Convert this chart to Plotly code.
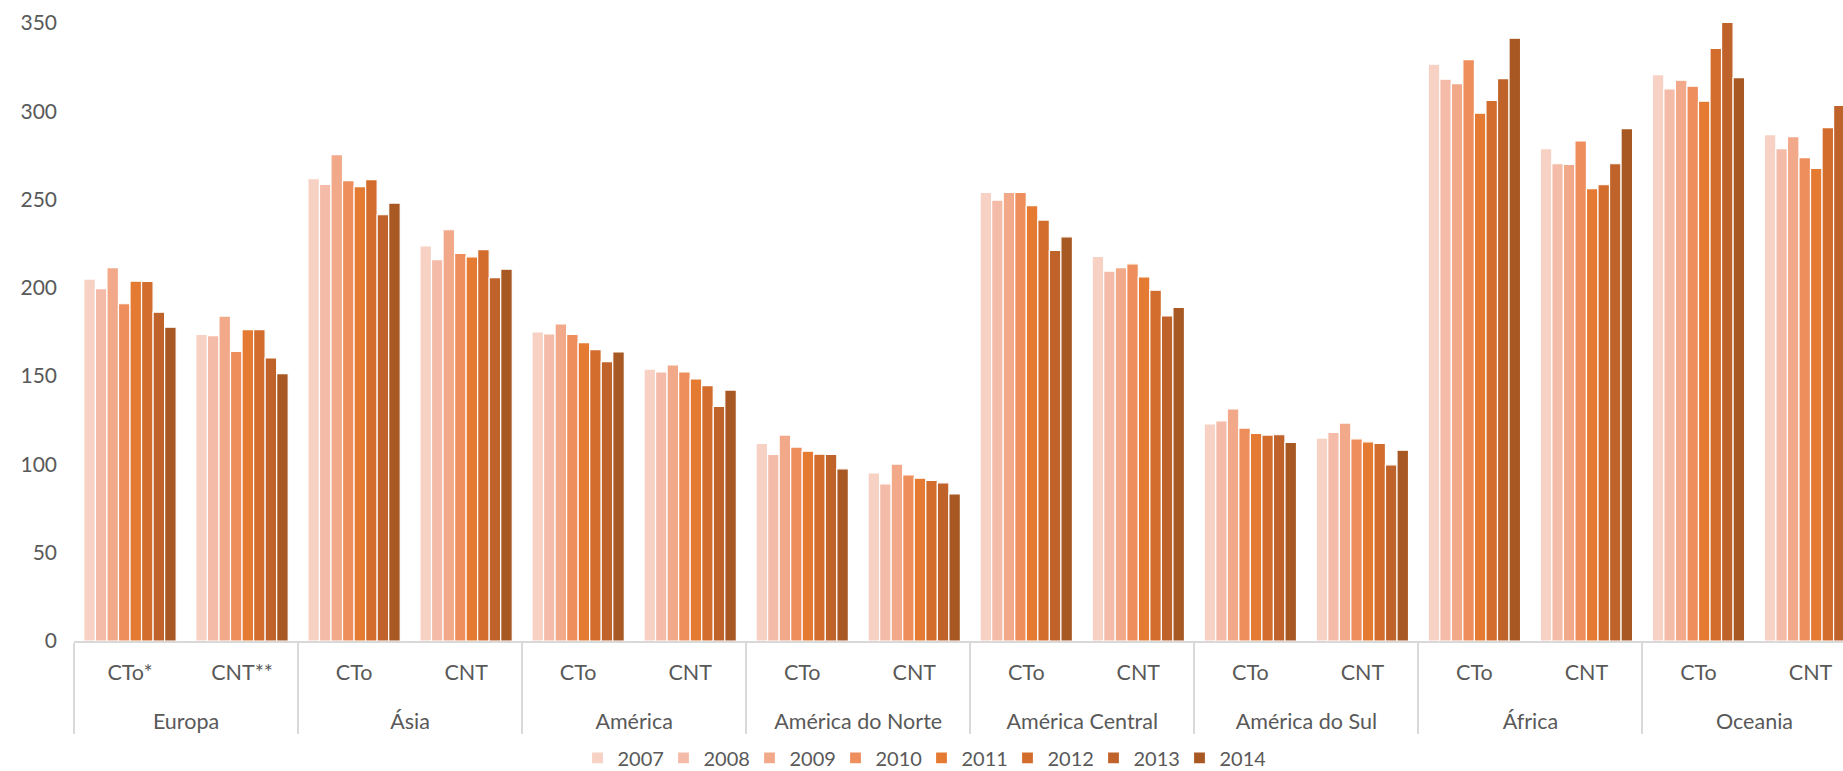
import plotly.graph_objects as go

regions = ["Europa", "Europa", "Ásia", "Ásia", "América", "América",
           "América do Norte", "América do Norte", "América Central", "América Central",
           "América do Sul", "América do Sul", "África", "África", "Oceania", "Oceania"]
subcats = ["CTo*", "CNT**", "CTo", "CNT", "CTo", "CNT", "CTo", "CNT",
           "CTo", "CNT", "CTo", "CNT", "CTo", "CNT", "CTo", "CNT"]
years = ["2007", "2008", "2009", "2010", "2011", "2012", "2013", "2014"]

v2007 = [205, 173.7, 261.8, 223.8, 175, 154, 111.9, 95.2, 254, 217.8, 122.9, 114.9, 326.7, 278.8, 320.8, 286.8]
v2008 = [199.6, 173, 258.6, 216, 173.9, 152.4, 105.7, 89, 249.7, 209.5, 124.7, 118.1, 318.2, 270.3, 312.7, 278.8]
v2009 = [211.5, 184, 275.4, 232.9, 179.6, 156.3, 116.6, 100.2, 254, 211.5, 131.4, 123.4, 315.7, 269.9, 317.6, 285.6]
v2010 = [191, 164, 260.7, 219.5, 173.7, 152.4, 109.8, 94.1, 254, 213.6, 120.6, 114.5, 329.3, 283.2, 314.2, 273.7]
v2011 = [203.8, 176.4, 257.3, 217.6, 169, 148.4, 107.5, 92.2, 246.5, 206.2, 117.6, 112.8, 298.9, 256.2, 305.7, 267.7]
v2012 = [203.6, 176.4, 261.3, 221.7, 165, 144.6, 105.8, 90.9, 238.4, 198.7, 116.6, 111.9, 306.1, 258.4, 335.6, 290.8]
v2013 = [186.2, 160.3, 241.4, 205.8, 158.2, 132.9, 105.7, 89.6, 221.2, 184.1, 116.8, 99.8, 318.5, 270.3, 350.3, 303.3]
v2014 = [177.7, 151.4, 248, 210.6, 163.7, 142.1, 97.5, 83.3, 228.9, 189, 112.5, 108.1, 341.4, 290.2, 319.1, 310]

series = [v2007, v2008, v2009, v2010, v2011, v2012, v2013, v2014]
colors = ["#F7D1C3", "#F4BCA8", "#F1A98A", "#EE8E5C", "#E57A32", "#D26D2D", "#C0632A", "#A85823"]

FONT = "Lato"
GRAY = "#595959"

# extra (invisible) second line under the sub-category labels to open up the two label rows
sub_labels = [s + "<br><span style='font-size:40px'> </span>" for s in subcats]

fig = go.Figure()
for name, vals, col in zip(years, series, colors):
    fig.add_trace(go.Bar(
        name=name, x=[regions, sub_labels], y=vals,
        marker=dict(color=col, line=dict(color="white", width=1.2)),
    ))

fig.update_layout(
    width=1843, height=771,
    margin=dict(l=74, r=0, t=23, b=130),
    paper_bgcolor="white", plot_bgcolor="white",
    barmode="group", bargap=0.176, bargroupgap=0.0,
    font=dict(family=FONT, size=20, color=GRAY),
    showlegend=True,
    legend=dict(orientation="h", xref="container", x=0.5, xanchor="center",
                yref="container", y=0.017, yanchor="middle",
                entrywidth=41, entrywidthmode="pixels",
                font=dict(family=FONT, size=20, color=GRAY),
                itemclick=False, traceorder="normal"),
)
fig.update_xaxes(
    type="multicategory",
    range=[-0.5, 15.29],
    showline=True, linecolor="#D9D9D9", linewidth=1.5,
    showdividers=True, dividercolor="#D9D9D9", dividerwidth=1.5,
    ticks="", showgrid=False, zeroline=False,
    ticklabelstandoff=11,
    tickfont=dict(family=FONT, size=21.5, color=GRAY),
)
fig.update_yaxes(
    range=[0, 350], tickvals=[0, 50, 100, 150, 200, 250, 300, 350],
    showgrid=False, zeroline=False, showline=False, ticks="",
    ticklabelstandoff=16,
    tickfont=dict(family=FONT, size=21, color=GRAY),
)

fig.write_html("out.html")
